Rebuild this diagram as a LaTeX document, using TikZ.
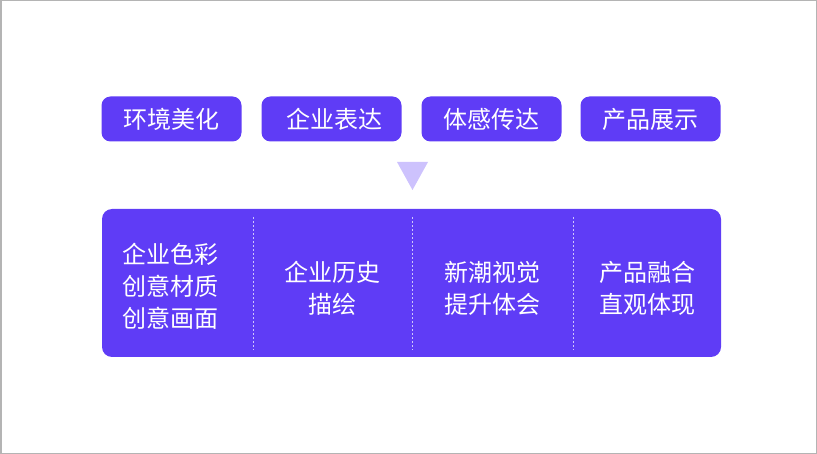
\documentclass[tikz,border=0pt]{standalone}
\usepackage{fontspec}
\setmainfont{Noto Sans CJK SC}
\usetikzlibrary{positioning}
\definecolor{mainpurple}{HTML}{5F3CF6}
\definecolor{lightpurple}{HTML}{CDC2FD}
\definecolor{framegray}{HTML}{B4B4B4}
\tikzset{
  tagbox/.style={fill=mainpurple, rounded corners=9pt, minimum width=140pt, minimum height=45pt, text=white, font=\fontsize{24}{28}\selectfont, inner sep=0pt},
  coltext/.style={text=white, font=\fontsize{24}{32}\selectfont, align=center, inner sep=0pt},
  divider/.style={white!70!mainpurple, dash pattern=on 2pt off 2pt, line width=0.9pt}
}
\begin{document}
\begin{tikzpicture}[x=1pt,y=-1pt]
\useasboundingbox (0,0) rectangle (817,454);
\draw[framegray, line width=1.5pt] (0.75,0.75) rectangle (816.25,453.25);
\node[tagbox] (t1) at (171.5,119) {环境美化};
\node[tagbox] (t2) at (331.5,119) {\hspace*{6pt}企业表达};
\node[tagbox] (t3) at (491.5,119) {体感传达};
\node[tagbox] (t4) at (650.5,119) {产品展示};
\fill[lightpurple] (397,162) -- (428,162) -- (412.5,190) -- cycle;
\node[fill=mainpurple, rounded corners=10pt, minimum width=619pt, minimum height=148pt, inner sep=0pt] (big) at (411.5,283) {};
\coordinate (d1t) at (253,217); \coordinate (d1b) at (253,350);
\coordinate (d2t) at (412,217); \coordinate (d2b) at (412,350);
\coordinate (d3t) at (573,217); \coordinate (d3b) at (573,350);
\draw[divider] (d1t) -- (d1b);
\draw[divider] (d2t) -- (d2b);
\draw[divider] (d3t) -- (d3b);
\node[coltext] (c1) at (170,286) {企业色彩\\创意材质\\创意画面};
\node[coltext] (c2) at (332,288) {企业历史\\描绘};
\node[coltext] (c3) at (492,288) {新潮视觉\\提升体会};
\node[coltext] (c4) at (647,288) {产品融合\\直观体现};
\end{tikzpicture}
\end{document}
